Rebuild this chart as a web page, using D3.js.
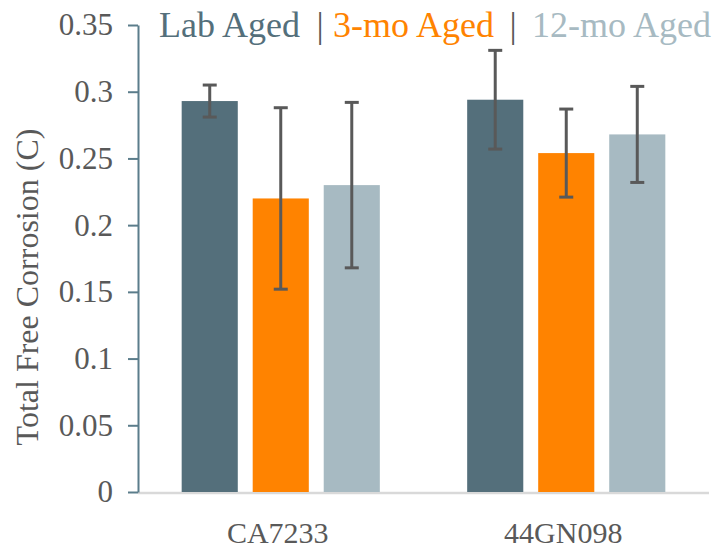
<!DOCTYPE html>
<html><head><meta charset="utf-8">
<script src="https://cdn.jsdelivr.net/npm/d3@7"></script>
<style>body{margin:0;background:#fff}svg{display:block}</style>
</head><body>
<script>
const categories = ["CA7233", "44GN098"];
const seriesNames = ["Lab Aged", "3-mo Aged", "12-mo Aged"];
const seriesColors = ["#546f7b", "#ff8300", "#a7bac2"];
const labAged = [0.293, 0.294];
const mo3Aged = [0.220, 0.254];
const mo12Aged = [0.230, 0.268];
const labErr = [0.012, 0.037];
const mo3Err = [0.068, 0.033];
const mo12Err = [0.062, 0.036];
const yTicks = [0, 0.05, 0.1, 0.15, 0.2, 0.25, 0.3, 0.35];

const values = [labAged, mo3Aged, mo12Aged];
const errs = [labErr, mo3Err, mo12Err];
const FONT = "'Liberation Serif'";

const W = 719, H = 548;
const m = {left: 138, right: 10, top: 25, bottom: 56};
const svg = d3.select("body").append("svg").attr("width", W).attr("height", H);

const y = d3.scaleLinear().domain([0, 0.35]).range([H - m.bottom, m.top]);
const x0 = d3.scaleBand().domain(categories).range([m.left, W - m.right]).padding(0);
const x1 = d3.scaleBand().domain(seriesNames).range([0, x0.bandwidth()]).paddingInner(0.21).paddingOuter(0.615);

// x baseline
svg.append("line").attr("x1", m.left).attr("x2", W - m.right)
  .attr("y1", y(0) + 1).attr("y2", y(0) + 1).attr("stroke", "#d9d9d9").attr("stroke-width", 2.5);

// bars
const data = [];
categories.forEach((c, ci) => seriesNames.forEach((s, si) => data.push({c, s, si, v: values[si][ci], e: errs[si][ci]})));
svg.append("g").selectAll("rect").data(data).join("rect")
  .attr("x", d => x0(d.c) + x1(d.s)).attr("width", x1.bandwidth())
  .attr("y", d => y(d.v)).attr("height", d => y(0) - y(d.v))
  .attr("fill", d => seriesColors[d.si]);

// error bars
const eg = svg.append("g").attr("stroke", "#595959").attr("stroke-width", 3);
data.forEach(d => {
  const cx = x0(d.c) + x1(d.s) + x1.bandwidth() / 2;
  eg.append("line").attr("x1", cx).attr("x2", cx).attr("y1", y(d.v + d.e)).attr("y2", y(d.v - d.e));
  [d.v + d.e, d.v - d.e].forEach(v => eg.append("line").attr("x1", cx - 7).attr("x2", cx + 7).attr("y1", y(v)).attr("y2", y(v)));
});

// y axis
const ya = svg.append("g").attr("transform", `translate(${m.left},0)`)
  .call(d3.axisLeft(y).tickValues(yTicks).tickFormat(d => String(+d.toFixed(2))).tickSize(10).tickSizeOuter(0).tickPadding(15));
ya.attr("font-family", null);
ya.select(".domain").attr("stroke", "#5b7d8b").attr("stroke-width", 2);
ya.selectAll(".tick line").attr("stroke", "#5b7d8b").attr("stroke-width", 2);
ya.selectAll(".tick text").attr("fill", "#595959").style("font-family", FONT).attr("font-size", 31);

// x labels
svg.append("g").selectAll("text").data(categories).join("text")
  .attr("x", d => x0(d) + x0.bandwidth() / 2 - 3).attr("y", 543)
  .attr("text-anchor", "middle").style("font-family", FONT).attr("font-size", 30)
  .attr("fill", "#595959").text(d => d);

// y title
svg.append("text").attr("transform", "translate(38,287) rotate(-90)")
  .attr("text-anchor", "middle").style("font-family", FONT).attr("font-size", 32)
  .attr("fill", "#595959").text("Total Free Corrosion (C)");

// legend
const legendX = [159, 333, 532];
const sepX = [320, 513];
const lg = svg.append("g");
seriesNames.forEach((s, i) => {
  lg.append("text").attr("x", legendX[i]).attr("y", 37).attr("fill", seriesColors[i])
    .style("font-family", FONT).attr("font-size", 36).text(s);
  if (i > 0) lg.append("text").attr("x", sepX[i - 1]).attr("y", 37).attr("text-anchor", "middle")
    .style("font-family", FONT).attr("font-size", 36).attr("fill", "#595959").text("|");
});
</script>
</body></html>
